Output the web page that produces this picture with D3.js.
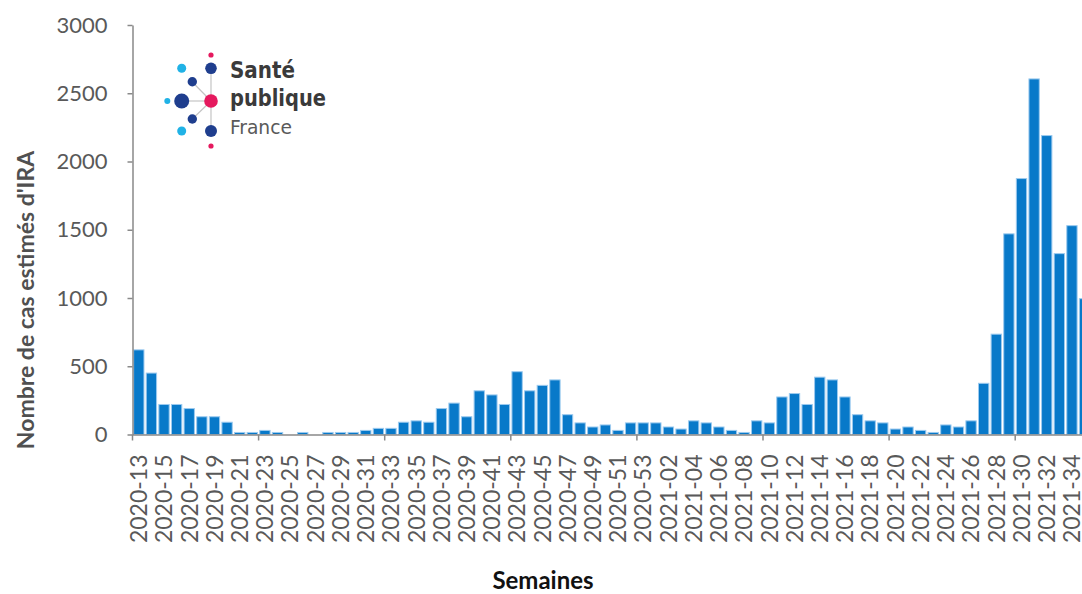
<!DOCTYPE html>
<html lang="fr">
<head>
<meta charset="utf-8">
<script src="https://cdn.jsdelivr.net/npm/d3@7"></script>
<style>
    body { margin: 0; background: #fff; }
    svg { display: block; }
    .axis path, .axis line { stroke: #898989; stroke-width: 1.5; }
    .axis text { fill: #595959; font-family: Lato, 'Open Sans', sans-serif; }
    .axis-title { font-family: Lato, 'Open Sans', sans-serif; font-weight: bold; }
    .bar { fill: #0879c9; stroke: #9ccaef; stroke-width: 1; }
</style>
</head>
<body>
<div id="chart"></div>
<script>
// weekly estimated ARI cases (IRA)
const weeks = [
    '2020-13', '2020-14', '2020-15', '2020-16', '2020-17', '2020-18', '2020-19', '2020-20',
    '2020-21', '2020-22', '2020-23', '2020-24', '2020-25', '2020-26', '2020-27', '2020-28',
    '2020-29', '2020-30', '2020-31', '2020-32', '2020-33', '2020-34', '2020-35', '2020-36',
    '2020-37', '2020-38', '2020-39', '2020-40', '2020-41', '2020-42', '2020-43', '2020-44',
    '2020-45', '2020-46', '2020-47', '2020-48', '2020-49', '2020-50', '2020-51', '2020-52',
    '2020-53', '2021-01', '2021-02', '2021-03', '2021-04', '2021-05', '2021-06', '2021-07',
    '2021-08', '2021-09', '2021-10', '2021-11', '2021-12', '2021-13', '2021-14', '2021-15',
    '2021-16', '2021-17', '2021-18', '2021-19', '2021-20', '2021-21', '2021-22', '2021-23',
    '2021-24', '2021-25', '2021-26', '2021-27', '2021-28', '2021-29', '2021-30', '2021-31',
    '2021-32', '2021-33', '2021-34', '2021-35'
];

const cases = [
    620, 450, 220, 220, 190, 130, 130, 90,
    15, 15, 30, 15, 0, 15, 0, 15,
    15, 15, 30, 45, 45, 90, 100, 90,
    190, 230, 130, 320, 290, 220, 460, 320,
    360, 400, 145, 85, 55, 70, 30, 85,
    85, 85, 55, 40, 100, 85, 55, 30,
    15, 100, 85, 275, 300, 220, 420, 400,
    275, 145, 100, 85, 40, 55, 30, 15,
    70, 55, 100, 375, 735, 1470, 1875, 2605,
    2190, 1325, 1530, 995
];

const yTicks = [0, 500, 1000, 1500, 2000, 2500, 3000];
const xTickLabels = weeks.filter((d, i) => i % 2 === 0);

const width = 1082;
const height = 594;
const plotLeft = 132.5;
const plotTop = 25;
const plotBottom = 434.5;
const step = 12.61;

const svg = d3.select('#chart')
  .append('svg')
    .attr('width', width)
    .attr('height', height);

const xScale = d3.scaleBand()
    .domain(weeks)
    .range([plotLeft, plotLeft + step * weeks.length])
    .paddingInner(0.18)
    .paddingOuter(0.09);

const yScale = d3.scaleLinear()
    .domain([0, 3000])
    .range([plotBottom, plotTop]);

// bars
svg.append('g')
    .selectAll('.bar')
    .data(weeks.map((w, i) => ({week: w, value: cases[i]})))
    .enter()
  .append('rect')
    .classed('bar', true)
    .attr('x', d => xScale(d.week))
    .attr('y', d => yScale(d.value))
    .attr('width', xScale.bandwidth())
    .attr('height', d => plotBottom - yScale(d.value))
    .style('display', d => d.value > 0 ? null : 'none');

// y axis
svg.append('g')
    .classed('axis', true)
    .attr('transform', `translate(${plotLeft},0)`)
    .call(d3.axisLeft(yScale)
        .tickValues(yTicks)
        .tickFormat(d3.format('d'))
        .tickSize(5)
        .tickSizeOuter(0)
        .tickPadding(20))
    .call(g => g.selectAll('text').style('font-size', '22px'));

// x axis, labels every other week
const xAxisGroup = svg.append('g')
    .classed('axis', true)
    .attr('transform', `translate(0,${plotBottom})`)
    .call(d3.axisBottom(xScale).tickValues(xTickLabels).tickSize(0).tickSizeOuter(0));

xAxisGroup.selectAll('text')
    .attr('x', -20)
    .attr('y', 0)
    .attr('dy', '0.36em')
    .attr('transform', 'rotate(-90)')
    .style('text-anchor', 'end')
    .style('font-size', '23px');

// tick marks between categories, every 10 weeks
const boundary = i => xScale(weeks[i]) - xScale.step() * xScale.paddingOuter();
xAxisGroup.selectAll('.cat-tick')
    .data(d3.range(0, weeks.length, 10))
    .enter()
  .append('line')
    .attr('x1', boundary)
    .attr('x2', boundary)
    .attr('y1', 0)
    .attr('y2', 6);

// axis titles
svg.append('text')
    .classed('axis-title', true)
    .attr('transform', 'translate(34,300) rotate(-90)')
    .attr('text-anchor', 'middle')
    .style('font-size', '23px')
    .style('fill', '#505050')
    .text("Nombre de cas estimés d'IRA");

svg.append('text')
    .classed('axis-title', true)
    .attr('x', 543)
    .attr('y', 589)
    .attr('text-anchor', 'middle')
    .style('font-size', '24px')
    .style('fill', '#111')
    .text('Semaines');

// Santé publique France logo
const logo = svg.append('g');
const hub = [211, 101];
[[181.7, 101], [192.3, 82], [192.3, 119], [211, 68], [211, 131]].forEach(p => {
    logo.append('line')
        .attr('x1', hub[0]).attr('y1', hub[1])
        .attr('x2', p[0]).attr('y2', p[1])
        .attr('stroke', '#c4c4c4')
        .attr('stroke-width', 1.2);
});
const dots = [
    [211, 55, 2.6, '#e5195e'],
    [211, 68.3, 5.8, '#1f3e8e'],
    [181.7, 68.3, 4.5, '#20b2e6'],
    [192.3, 81.7, 4.7, '#1f3e8e'],
    [167.3, 101, 3, '#20b2e6'],
    [181.7, 101, 7.5, '#1f3e8e'],
    [211, 101, 6.8, '#e5195e'],
    [192.3, 119, 4.7, '#1f3e8e'],
    [181.7, 131, 4.5, '#20b2e6'],
    [211, 131, 6, '#1f3e8e'],
    [211, 146, 2.6, '#e5195e']
];
logo.selectAll('circle')
    .data(dots)
    .enter()
  .append('circle')
    .attr('cx', d => d[0])
    .attr('cy', d => d[1])
    .attr('r', d => d[2])
    .attr('fill', d => d[3]);

const logoText = [
    ['Santé', 78, 'bold', 23, 65, '#3a3a3a'],
    ['publique', 106, 'bold', 23, 96, '#3a3a3a'],
    ['France', 134, 'normal', 20, 62, '#5a5a5a']
];
logoText.forEach(([t, y, w, s, len, c]) => {
    logo.append('text')
        .attr('x', 230)
        .attr('y', y)
        .attr('textLength', len)
        .attr('lengthAdjust', 'spacingAndGlyphs')
        .style('font-family', "'DejaVu Sans Condensed', Roboto, sans-serif")
        .style('font-weight', w)
        .style('font-size', s + 'px')
        .style('fill', c)
        .text(t);
});
</script>
</body>
</html>
